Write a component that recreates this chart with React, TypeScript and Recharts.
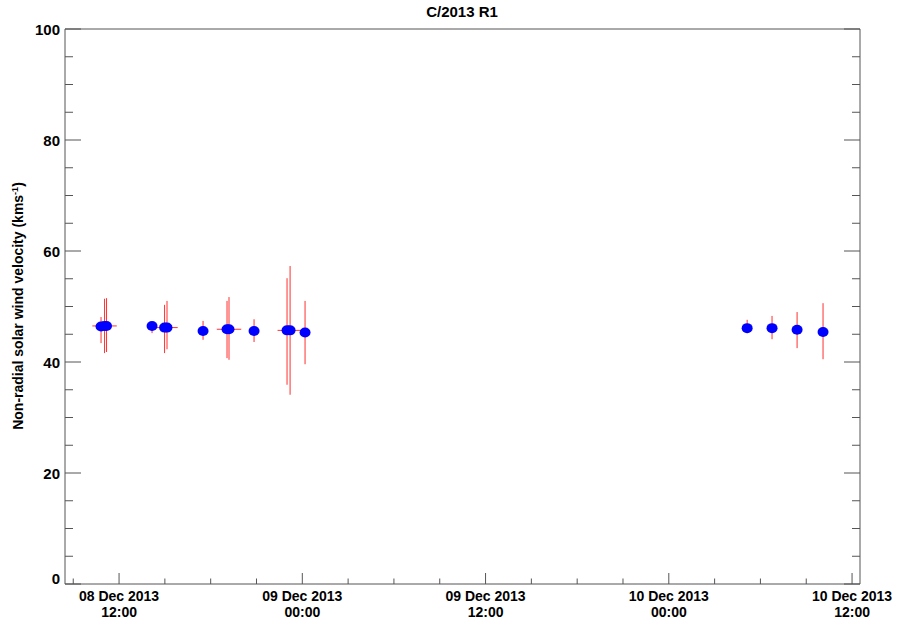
import { ErrorBar, Scatter, ScatterChart, XAxis, YAxis } from 'recharts'

// hours since 08 Dec 2013 00:00
const HOURS = [10.82, 11.05, 11.18, 14.16, 14.98, 15.14, 17.5, 19.07, 19.2, 20.84, 23.0, 23.2, 24.18, 53.13, 54.76, 56.4, 58.1]
const VELOCITY = [46.4, 46.5, 46.5, 46.5, 46.2, 46.2, 45.6, 45.9, 45.9, 45.6, 45.7, 45.7, 45.3, 46.1, 46.1, 45.8, 45.4]
const LOW = [43.4, 41.6, 41.8, 45.2, 41.6, 42.3, 44.0, 40.7, 40.4, 43.6, 35.9, 34.1, 39.6, 45.2, 44.1, 42.5, 40.5]
const HIGH = [48.1, 51.4, 51.5, 47.2, 50.3, 51.0, 47.4, 51.0, 51.7, 47.7, 55.1, 57.3, 51.0, 47.6, 48.3, 49.0, 50.6]
const TIME_ERR = [0, 0.8, 0, 0, 0, 0.7, 0, 0, 0.8, 0, 0, 0.82, 0, 0, 0, 0, 0]

const X_TICKS = [9, 12, 15, 18, 21, 24, 27, 30, 33, 36, 39, 42, 45, 48, 51, 54, 57, 60]
const X_MAJOR = [12, 24, 36, 48, 60]
const X_LABELS = [
  ['08 Dec 2013', '12:00'],
  ['09 Dec 2013', '00:00'],
  ['09 Dec 2013', '12:00'],
  ['10 Dec 2013', '00:00'],
  ['10 Dec 2013', '12:00'],
]
const Y_TICKS = [0, 5, 10, 15, 20, 25, 30, 35, 40, 45, 50, 55, 60, 65, 70, 75, 80, 85, 90, 95, 100]
const Y_MAJOR = [0, 20, 40, 60, 80, 100]

const X_DOMAIN = [8.46, 60.52]
const AXIS = '#555'
const FONT = '"Liberation Sans", Arial, Helvetica, sans-serif'

const data = HOURS.map((h, i) => ({
  t: h,
  v: VELOCITY[i],
  vErr: [VELOCITY[i] - LOW[i], HIGH[i] - VELOCITY[i]],
  tErr: TIME_ERR[i],
}))

function BottomTick(props: any) {
  const { x, y, payload } = props
  const idx = X_MAJOR.indexOf(payload.value)
  return (
    <g>
      <line x1={x} x2={x} y1={y} y2={y - (idx >= 0 ? 11 : 5.5)} stroke={AXIS} />
      {idx >= 0 && (
        <g fontFamily={FONT} fontWeight="bold" fontSize={14} fill="#000" textAnchor="middle">
          <text x={x} y={y + 17}>{X_LABELS[idx][0]}</text>
          <text x={x} y={y + 33}>{X_LABELS[idx][1]}</text>
        </g>
      )}
    </g>
  )
}

function TopTick(props: any) {
  const { x, y, payload } = props
  const major = X_MAJOR.includes(payload.value)
  return <line x1={x} x2={x} y1={y} y2={y + (major ? 11 : 5.5)} stroke={AXIS} />
}

function LeftTick(props: any) {
  const { x, y, payload } = props
  const major = Y_MAJOR.includes(payload.value)
  return (
    <g>
      <line x1={x} x2={x + (major ? 16 : 8)} y1={y} y2={y} stroke={AXIS} />
      {major && (
        <text
          x={x - 5}
          y={y + 5.5 - (payload.value === 0 ? 6 : 0)}
          textAnchor="end"
          fontFamily={FONT}
          fontWeight="bold"
          fontSize={15}
          fill="#000"
        >
          {payload.value}
        </text>
      )}
    </g>
  )
}

function RightTick(props: any) {
  const { x, y, payload } = props
  const major = Y_MAJOR.includes(payload.value)
  return <line x1={x} x2={x - (major ? 16 : 8)} y1={y} y2={y} stroke={AXIS} />
}

const Dot = (props: any) => <ellipse cx={props.cx} cy={props.cy} rx={5.5} ry={5} fill="#0000ff" />
const NoDot = () => <g />

export default function App() {
  return (
    <div style={{ position: 'absolute', left: 0, top: 0, width: 898, height: 623, background: '#fff' }}>
      <ScatterChart width={898} height={623} margin={{ top: 0, right: 0, bottom: 0, left: 0 }}>
        <XAxis
          xAxisId="b"
          dataKey="t"
          type="number"
          domain={X_DOMAIN}
          ticks={X_TICKS}
          interval={0}
          height={39}
          tickSize={0}
          tickMargin={0}
          tickLine={false}
          axisLine={{ stroke: AXIS }}
          tick={<BottomTick />}
          allowDataOverflow
        />
        <XAxis
          xAxisId="t"
          orientation="top"
          type="number"
          domain={X_DOMAIN}
          ticks={X_TICKS}
          interval={0}
          height={29}
          tickSize={0}
          tickMargin={0}
          tickLine={false}
          axisLine={{ stroke: AXIS }}
          tick={<TopTick />}
          allowDataOverflow
        />
        <YAxis
          yAxisId="l"
          dataKey="v"
          type="number"
          domain={[0, 100]}
          ticks={Y_TICKS}
          interval={0}
          width={65}
          tickSize={0}
          tickMargin={0}
          tickLine={false}
          axisLine={{ stroke: AXIS }}
          tick={<LeftTick />}
          allowDataOverflow
        />
        <YAxis
          yAxisId="r"
          orientation="right"
          type="number"
          domain={[0, 100]}
          ticks={Y_TICKS}
          interval={0}
          width={38}
          tickSize={0}
          tickMargin={0}
          tickLine={false}
          axisLine={{ stroke: AXIS }}
          tick={<RightTick />}
          allowDataOverflow
        />
        <Scatter data={data} xAxisId="b" yAxisId="l" shape={<NoDot />} isAnimationActive={false}>
          <ErrorBar dataKey="vErr" direction="y" width={0} stroke="#ff3030" strokeWidth={1} isAnimationActive={false} />
          <ErrorBar dataKey="tErr" direction="x" width={0} stroke="#ff3030" strokeWidth={1} isAnimationActive={false} />
        </Scatter>
        <Scatter data={data} xAxisId="b" yAxisId="l" shape={<Dot />} isAnimationActive={false} />
      </ScatterChart>
      <svg width={898} height={623} style={{ position: 'absolute', left: 0, top: 0, pointerEvents: 'none' }}>
        <text x={462} y={17} textAnchor="middle" fontFamily={FONT} fontWeight="bold" fontSize={15} fill="#000">
          C/2013 R1
        </text>
        <text
          transform="translate(23, 306) rotate(-90)"
          textAnchor="middle"
          fontFamily={FONT}
          fontWeight="bold"
          fontSize={14}
          fill="#000"
        >
          Non-radial solar wind velocity (kms
          <tspan fontSize={9} dy={-5}>-1</tspan>
          <tspan dy={5}>)</tspan>
        </text>
      </svg>
    </div>
  )
}
